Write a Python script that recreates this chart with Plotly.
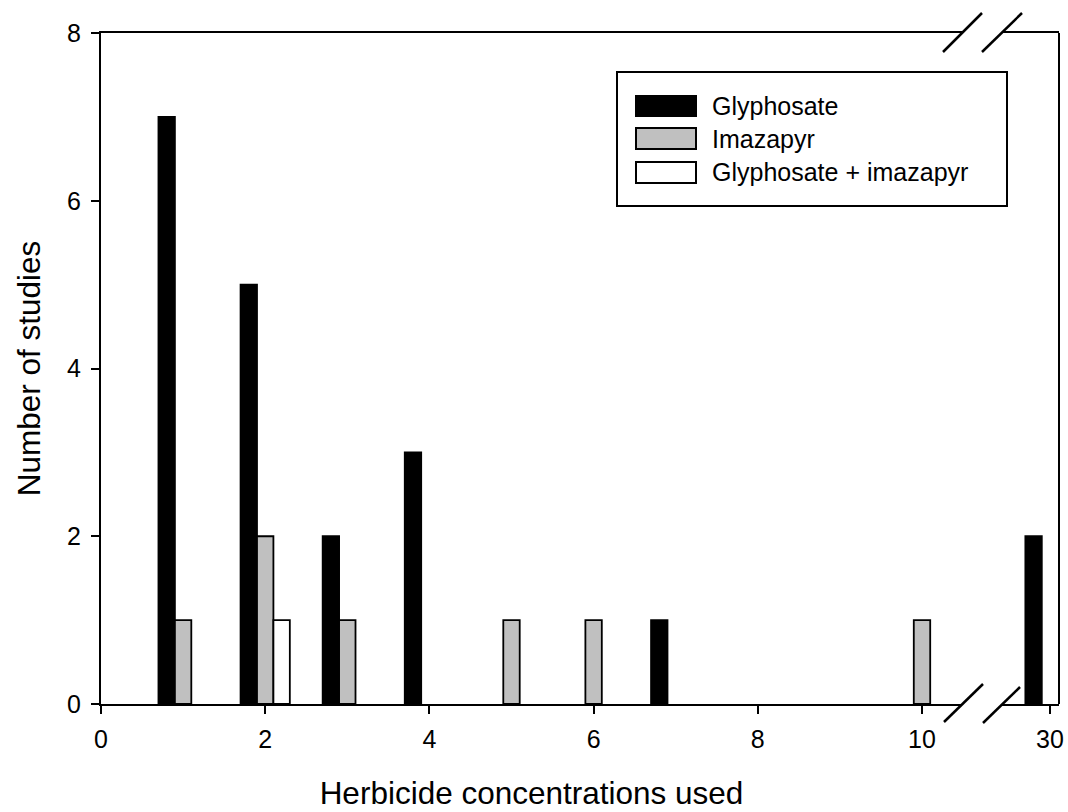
import plotly.graph_objects as go

# ---------------- data ----------------
concentrations = [1, 2, 3, 4, 5, 6, 7, 10, 30]
glyphosate = [7, 5, 2, 3, 0, 0, 1, 0, 2]
imazapyr = [1, 2, 1, 0, 1, 1, 0, 1, 0]
glyph_imaz = [0, 1, 0, 0, 0, 0, 0, 0, 0]
series_names = ["Glyphosate", "Imazapyr", "Glyphosate + imazapyr"]
x_ticks_left = [0, 2, 4, 6, 8, 10]
x_ticks_right = [30]
y_ticks = [0, 2, 4, 6, 8]

# ---------------- layout constants ----------------
FIG_W, FIG_H = 1068, 812
L, R, T, B = 101, 1059, 33, 704
PW, PH = R - L, B - T
FONT = "Liberation Sans, Arial, sans-serif"
BREAK_LO, BREAK_HI = 10.5, 29

def px(x):
    return (x - L) / PW

def py(y):
    return (B - y) / PH

series_vals = [glyphosate, imazapyr, glyph_imaz]
fills = ["#000000", "#c0c0c0", "#ffffff"]
offsets = [-0.3, -0.1, 0.1]

fig = go.Figure()
for name, vals, fill, off in zip(series_names, series_vals, fills, offsets):
    for side in ("left", "right"):
        xs, ys = [], []
        for c, v in zip(concentrations, vals):
            if v == 0:
                continue
            if (side == "left" and c <= BREAK_LO) or (side == "right" and c >= BREAK_HI):
                xs.append(c)
                ys.append(v)
        if not xs:
            continue
        fig.add_trace(go.Bar(
            x=xs, y=ys, name=name, width=0.2, offset=off,
            xaxis="x" if side == "left" else "x2", yaxis="y",
            marker=dict(color=fill, line=dict(color="black", width=1.8)),
            showlegend=False,
        ))

axis_common = dict(
    showline=True, linecolor="black", linewidth=2, mirror=True,
    ticks="outside", ticklen=8, tickwidth=2, tickcolor="black",
    showgrid=False, zeroline=False,
    tickfont=dict(family=FONT, size=25, color="black"),
    automargin=False,
)

fig.update_layout(
    width=FIG_W, height=FIG_H,
    margin=dict(l=L, r=FIG_W - R, t=T, b=FIG_H - B, pad=0),
    paper_bgcolor="white", plot_bgcolor="white",
    barmode="overlay", showlegend=False,
    xaxis=dict(domain=[0, px(962)], range=[0, (962 - L) / 82.1],
               tickvals=x_ticks_left, ticklabelstandoff=4,
               title=dict(text="Herbicide concentrations used",
                          font=dict(family=FONT, size=31.5, color="black"),
                          standoff=30),
               **axis_common),
    xaxis2=dict(domain=[px(1002), 1], range=[30 - 48 / 82.1, 30 + 9 / 82.1],
                tickvals=x_ticks_right, anchor="y", ticklabelstandoff=4,
                **axis_common),
    yaxis=dict(domain=[0, 1], range=[0, 8], tickvals=y_ticks,
               ticklabelstandoff=5,
               title=dict(text="Number of studies",
                          font=dict(family=FONT, size=31.5, color="black"),
                          standoff=17),
               **{k: v for k, v in axis_common.items() if k != "mirror"}),
)

shapes = []
# right border
shapes.append(dict(type="line", xref="paper", yref="paper", x0=1, x1=1, y0=0, y1=1,
                   line=dict(color="black", width=2)))
# axis break slashes
for (x0, y0, x1, y1) in [(944, 722, 983, 684), (983, 723, 1020, 687),
                         (943, 52, 982, 13), (982, 52, 1022, 13)]:
    shapes.append(dict(type="line", xref="paper", yref="paper",
                       x0=px(x0), y0=py(y0), x1=px(x1), y1=py(y1),
                       line=dict(color="black", width=2.5)))
# legend box
shapes.append(dict(type="rect", xref="paper", yref="paper",
                   x0=px(617), x1=px(1007), y0=py(206), y1=py(72),
                   line=dict(color="black", width=2), fillcolor="white", layer="above"))
rows = [(96, 116), (128, 149), (162, 183)]
annotations = []
for (ya, yb), fill, name in zip(rows, fills, series_names):
    shapes.append(dict(type="rect", xref="paper", yref="paper",
                       x0=px(636), x1=px(696), y0=py(yb), y1=py(ya),
                       line=dict(color="black", width=2), fillcolor=fill, layer="above"))
    annotations.append(dict(xref="paper", yref="paper", x=px(710), y=py((ya + yb) / 2),
                            text=name, showarrow=False, xanchor="left", yanchor="middle",
                            font=dict(family=FONT, size=25, color="black")))
fig.update_layout(shapes=shapes, annotations=annotations)

fig.write_html("out.html", config={"displayModeBar": False},
               post_script="document.body.style.margin='0';document.body.style.overflow='hidden';")
